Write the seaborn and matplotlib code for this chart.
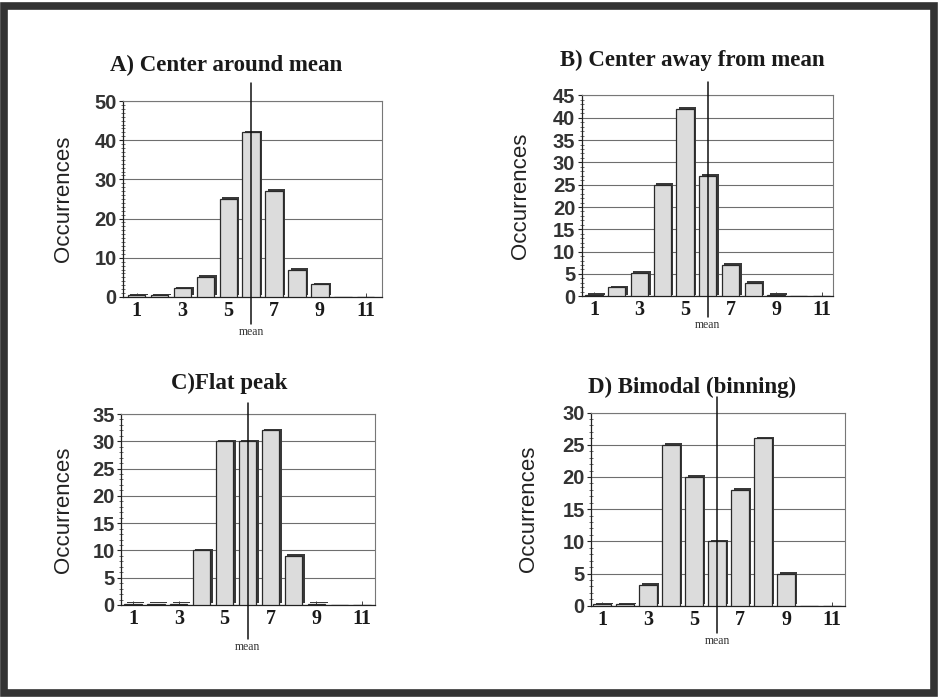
import matplotlib
matplotlib.use("Agg")
import matplotlib.pyplot as plt
import matplotlib.patheffects as pe
from matplotlib.patches import Rectangle
from matplotlib.ticker import MultipleLocator
import pandas as pd
import seaborn as sns

# Histogram bins and occurrence counts
BINS = [1, 2, 3, 4, 5, 6, 7, 8, 9, 10, 11]
CENTER_AROUND_MEAN = [0.4, 0.4, 2.2, 5.2, 25, 42, 27, 7, 3.2, 0, 0]
CENTER_AWAY_FROM_MEAN = [0.3, 2, 5.2, 25, 42, 27, 7, 3, 0.3, 0, 0]
FLAT_PEAK = [0.2, 0.2, 0.2, 10, 30, 30, 32, 9, 0.2, 0, 0]
BIMODAL = [0.2, 0.2, 3.2, 25, 20, 10, 18, 26, 5, 0, 0]
MEAN = 6
X_TICKS = [1, 3, 5, 7, 9, 11]

TITLES = ["A) Center around mean", "B) Center away from mean",
          "C)Flat peak", "D) Bimodal (binning)"]

sns.set_style("white")
plt.rcParams['font.family'] = ['Liberation Sans', 'DejaVu Sans']

fig = plt.figure(figsize=(9.38, 6.97), dpi=100)

# panel layout: axes rect, ylim, y step, minor step, mean-line extent, title pos, ylabel x
panels = [
    dict(values=CENTER_AROUND_MEAN, rect=[0.131, 0.574, 0.276, 0.281], ymax=50, step=10, minor=1,
         xlim=(0.4, 11.7), line=(-0.14, 1.09), title_xy=(226, 65), ylab_x=-0.19),
    dict(values=CENTER_AWAY_FROM_MEAN, rect=[0.620, 0.575, 0.268, 0.288], ymax=45, step=5, minor=1,
         xlim=(0.45, 11.5), line=(-0.105, 1.065), title_xy=(692, 60), ylab_x=-0.20),
    dict(values=FLAT_PEAK, rect=[0.129, 0.132, 0.271, 0.274], ymax=35, step=5, minor=1,
         xlim=(0.48, 11.57), line=(-0.18, 1.058), title_xy=(229, 383), ylab_x=-0.185),
    dict(values=BIMODAL, rect=[0.630, 0.131, 0.271, 0.277], ymax=30, step=5, minor=1,
         xlim=(0.52, 11.57), line=(-0.14, 1.083), title_xy=(692, 387), ylab_x=-0.205),
]

for p, title in zip(panels, TITLES):
    ax = fig.add_axes(p["rect"])
    df = pd.DataFrame({"bin": BINS, "count": p["values"]})
    sns.barplot(data=df, x="bin", y="count", native_scale=True, width=0.76,
                color="#dcdcdc", saturation=1, edgecolor="#2a2a2a", linewidth=0.9,
                ax=ax, zorder=3)
    for bar in ax.patches:
        bar.set_path_effects([pe.SimplePatchShadow(offset=(1.8, 1.2), shadow_rgbFace="#3a3a3a",
                                                   alpha=1.0), pe.Normal()])

    ax.set_xlim(*p["xlim"])
    ax.set_ylim(0, p["ymax"])
    ax.set_xticks(X_TICKS)
    ax.set_xticklabels([str(t) for t in X_TICKS], family=["Liberation Serif"],
                       fontweight="bold", fontsize=14.5, color="#1a1a1a")
    ax.yaxis.set_major_locator(MultipleLocator(p["step"]))
    ax.yaxis.set_minor_locator(MultipleLocator(p["minor"]))
    for lab in ax.get_yticklabels():
        lab.set_fontweight("bold")
        lab.set_fontsize(14.5)
        lab.set_color("#333")
    ax.tick_params(axis="y", which="major", direction="out", length=3, width=0.8, pad=1.5,
                   color="#222", left=True)
    ax.tick_params(axis="y", which="minor", direction="inout", length=2.5, width=0.6,
                   color="#555", left=True)
    ax.tick_params(axis="x", which="major", direction="in", length=3, width=0.6, pad=3,
                   bottom=True)

    ax.grid(axis="y", which="major", color="#6e6e6e", linewidth=0.8, zorder=0)
    ax.set_axisbelow(True)
    for side in ["top", "right"]:
        ax.spines[side].set_color("#777")
        ax.spines[side].set_linewidth(0.8)
    for side in ["left", "bottom"]:
        ax.spines[side].set_color("#222")
        ax.spines[side].set_linewidth(0.9)

    ax.set_xlabel("")
    ax.set_ylabel("Occurrences", fontsize=16, color="#222")
    ax.yaxis.set_label_coords(p["ylab_x"], 0.5)

    # mean marker line running past the plot frame
    ax.axvline(MEAN, ymin=p["line"][0], ymax=p["line"][1], color="#111",
               linewidth=1.1, clip_on=False, zorder=5)
    ax.text(MEAN, p["line"][0] - 0.01, "mean", transform=ax.get_xaxis_transform(),
            ha="center", va="top", fontsize=8.5, family=["Liberation Serif"], color="#333")

    tx, ty = p["title_xy"]
    fig.text(tx / 938, 1 - ty / 697, title, ha="center", va="center", fontsize=16.5,
             fontweight="bold", family=["Liberation Serif"], color="#1a1a1a")

# dark border around the whole slide
fig.patches.append(Rectangle((0.0045, 0.006), 0.991, 0.986, transform=fig.transFigure,
                             fill=False, edgecolor="#333", linewidth=5.5))

fig.savefig("out.png", dpi=100)
